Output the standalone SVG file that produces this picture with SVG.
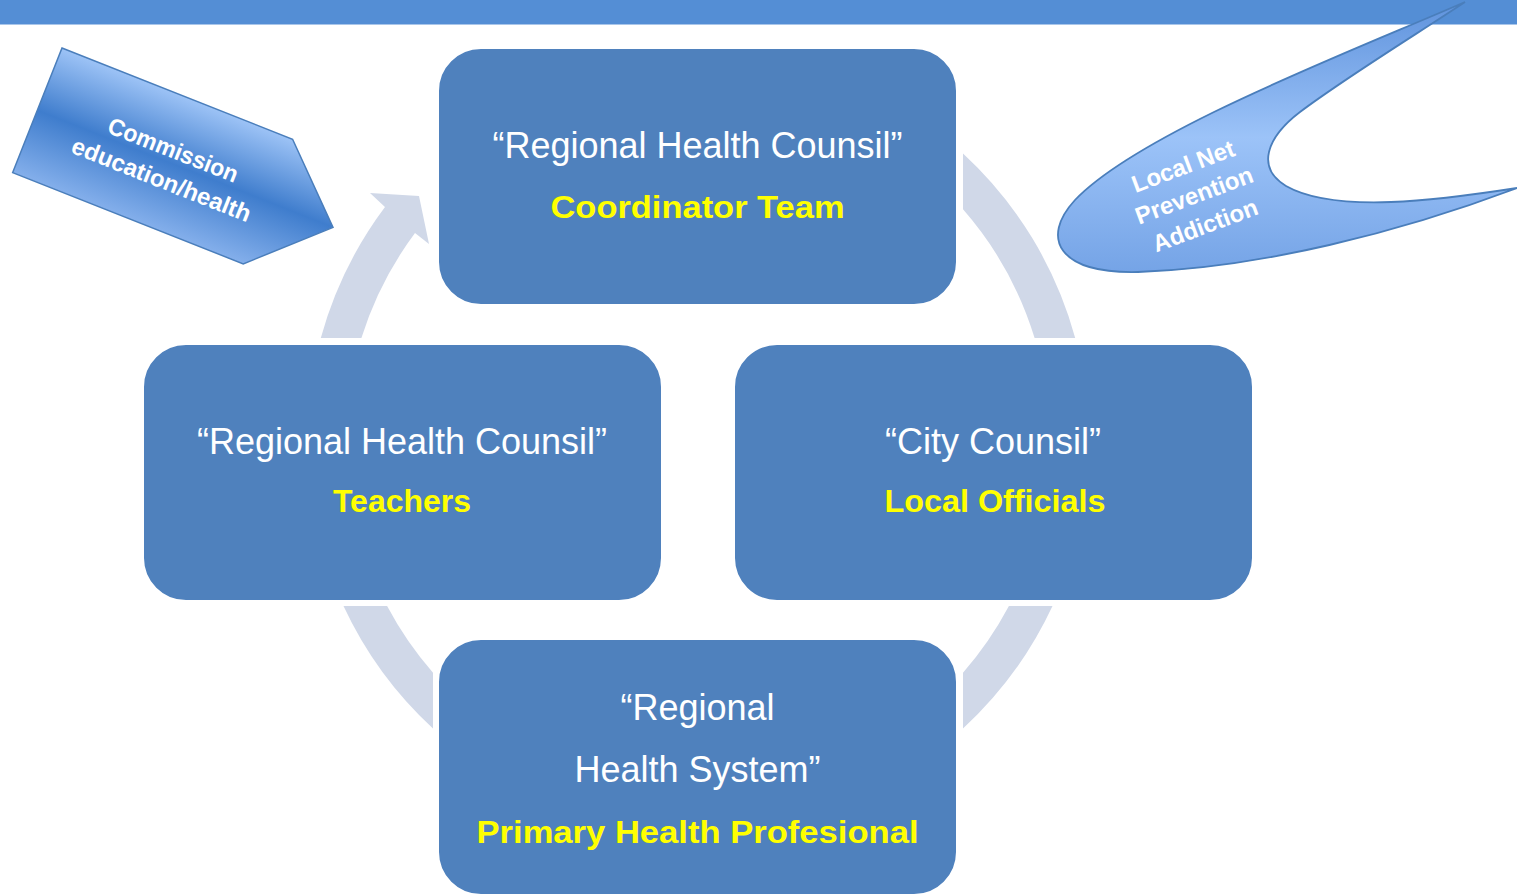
<svg xmlns="http://www.w3.org/2000/svg" width="1517" height="894" viewBox="0 0 1517 894">
<style>
.box{fill:#4F81BD;stroke:#FFFFFF;stroke-width:2}
.ring{fill:#D0D8E8;stroke:none}
.t1{font-family:"Liberation Sans",Arial,sans-serif;font-size:36px;fill:#FFFFFF;text-anchor:middle}
.t2{font-family:"Liberation Sans",Arial,sans-serif;font-size:32px;font-weight:bold;fill:#FFFF00;text-anchor:middle}
.tw{font-family:"Liberation Sans",Arial,sans-serif;font-size:24px;font-weight:bold;fill:#FFFFFF;text-anchor:middle}
</style>
<defs>
<linearGradient id="gPent" x1="0" y1="0" x2="0" y2="134" gradientUnits="userSpaceOnUse">
<stop offset="0" stop-color="#9DC3F6"/>
<stop offset="0.5" stop-color="#3F7DCD"/>
<stop offset="1" stop-color="#84AFEB"/>
</linearGradient>
<linearGradient id="gCall" x1="0" y1="0" x2="0" y2="275" gradientUnits="userSpaceOnUse">
<stop offset="0" stop-color="#5E92DC"/>
<stop offset="0.5" stop-color="#9CC3F8"/>
<stop offset="1" stop-color="#74A3E6"/>
</linearGradient>
</defs>
<rect x="0" y="0" width="1517" height="894" fill="#FFFFFF"/>
<rect id="header" x="0" y="0" width="1517" height="24.5" fill="#548ED5"/>

<g id="connectors">
<path class="ring" d="M320.8,338 A391,391 0 0 1 385,207 L370,193 L419,196 L429,244 L415,233 A352,352 0 0 0 361.4,338 Z"/>
<path class="ring" d="M963,153.5 A391,391 0 0 1 1075.2,338 L1034.6,338 A352,352 0 0 0 963,209.3 Z"/>
<path class="ring" d="M1052.5,606 A391,391 0 0 1 963,728.5 L963,672.7 A352,352 0 0 0 1008.9,606 Z"/>
<path class="ring" d="M433,728.5 A391,391 0 0 1 343.5,606 L387.1,606 A352,352 0 0 0 433,672.7 Z"/>
</g>

<g id="node-top">
<rect class="box" x="438" y="48" width="519" height="257" rx="43" ry="43"/>
<text class="t1" x="697.5" y="158">“Regional Health Counsil”</text>
<text class="t2" x="697.5" y="218" textLength="294" lengthAdjust="spacingAndGlyphs">Coordinator Team</text>
</g>

<g id="node-left">
<rect class="box" x="143" y="344" width="519" height="257" rx="43" ry="43"/>
<text class="t1" x="402" y="453.5">“Regional Health Counsil”</text>
<text class="t2" x="402" y="512">Teachers</text>
</g>

<g id="node-right">
<rect class="box" x="734" y="344" width="519" height="257" rx="43" ry="43"/>
<text class="t1" x="993" y="453.5">“City Counsil”</text>
<text class="t2" x="995" y="512" textLength="221" lengthAdjust="spacingAndGlyphs">Local Officials</text>
</g>

<g id="node-bottom">
<rect class="box" x="438" y="639" width="519" height="256" rx="43" ry="43"/>
<text class="t1" x="697.5" y="720">“Regional</text>
<text class="t1" x="697.5" y="782">Health System”</text>
<text class="t2" x="697.5" y="843" textLength="442" lengthAdjust="spacingAndGlyphs">Primary Health Profesional</text>
</g>

<g id="node-commission" transform="translate(62,48) rotate(21.6)">
<path d="M0,0 L248,0 L318,67 L248,134 L0,134 Z" fill="url(#gPent)" stroke="#4A7EBB" stroke-width="1.5"/>
<text class="tw" x="141" y="62" textLength="138" lengthAdjust="spacingAndGlyphs">Commission</text>
<text class="tw" x="141" y="94">education/health</text>
</g>

<g id="node-localnet">
<path d="M1465,2 C1350,52 1140,132 1075,200 C1040,238 1058,274 1138,272 C1260,268 1400,232 1517,188 C1440,200 1335,214 1286,186 C1256,168 1266,138 1300,112 C1345,78 1420,32 1465,2 Z" fill="url(#gCall)" stroke="#4A7EBB" stroke-width="1.8"/>
<text class="tw" x="1186" y="174" transform="rotate(-20.5 1186 174)">Local Net</text>
<text class="tw" x="1197" y="203" transform="rotate(-20.5 1197 203)">Prevention</text>
<text class="tw" x="1208" y="233" transform="rotate(-20.5 1208 233)">Addiction</text>
</g>
</svg>
